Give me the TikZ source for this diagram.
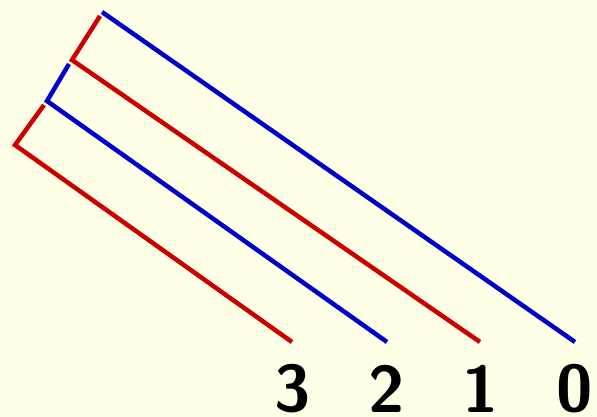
\documentclass[tikz,border=0pt]{standalone}
\usepackage{tikz}
\usepackage{xcolor}
\definecolor{bgyellow}{RGB}{255,255,232}
\definecolor{treered}{RGB}{204,0,0}
\definecolor{treeblue}{RGB}{0,0,204}
\tikzset{
  redline/.style={treered, line width=4.5pt},
  blueline/.style={treeblue, line width=4.5pt},
  leaflabel/.style={font=\fontsize{66}{66}\selectfont\sffamily\bfseries, inner sep=0pt}
}
\begin{document}
\begin{tikzpicture}[x=1pt,y=-1pt]
% background
\fill[bgyellow] (0,0) rectangle (597,417);
\useasboundingbox (0,0) rectangle (597,417);
% corners of the tree
\coordinate (t0) at (102,12);
\coordinate (s1) at (100,16);
\coordinate (c1) at (72,60);
\coordinate (s2) at (69,64);
\coordinate (c2) at (47,101);
\coordinate (s3) at (44,105);
\coordinate (c3) at (15,145);
% line ends
\coordinate (e3) at (292,342);
\coordinate (e2) at (387,342);
\coordinate (e1) at (480,342);
\coordinate (e0) at (575,342);
% labels
\node[leaflabel] (l3) at (293,389) {3};
\node[leaflabel] (l2) at (387,389) {2};
\node[leaflabel] (l1) at (481,389) {1};
\node[leaflabel] (l0) at (575,389) {0};
% branches
\draw[blueline] (t0) -- (e0);
\draw[redline] (s1) -- (c1) -- (e1);
\draw[blueline] (s2) -- (c2) -- (e2);
\draw[redline] (s3) -- (c3) -- (e3);
\end{tikzpicture}
\end{document}
